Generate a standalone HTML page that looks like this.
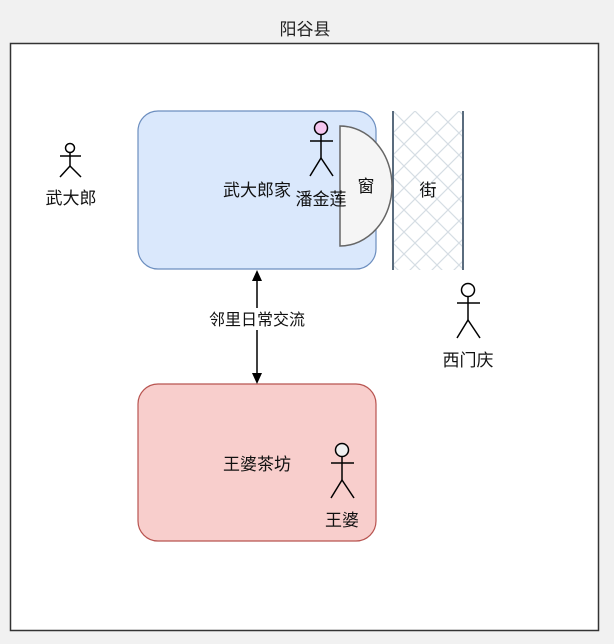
<!DOCTYPE html>
<html><head><meta charset="utf-8"><style>
html,body{margin:0;padding:0;background:#f1f1f1;}
svg{display:block;font-family:"Liberation Sans","Noto Sans CJK SC",sans-serif;}
</style></head><body>
<svg width="614" height="644" viewBox="0 0 614 644" xmlns="http://www.w3.org/2000/svg">
<defs>
<pattern id="hatch" width="22" height="22" patternUnits="userSpaceOnUse" x="393" y="111">
<path d="M0,0 L22,22 M22,0 L0,22" stroke="#d6dde4" stroke-width="1.2"/>
</pattern>
</defs>
<text x="305" y="35" font-size="17" text-anchor="middle" fill="#222">阳谷县</text>
<rect x="10.5" y="43.5" width="588" height="587" fill="#fff" stroke="#333" stroke-width="1.5"/>
<rect x="138" y="111" width="238" height="158" rx="20" fill="#dae8fc" stroke="#6c8ebf" stroke-width="1.2"/>
<text x="257" y="196" font-size="17" text-anchor="middle" fill="#111">武大郎家</text>
<rect x="138" y="384" width="238" height="157" rx="20" fill="#f8cecc" stroke="#b85450" stroke-width="1.2"/>
<text x="257" y="470" font-size="17" text-anchor="middle" fill="#111">王婆茶坊</text>
<rect x="393" y="111" width="70" height="159" fill="url(#hatch)"/>
<line x1="393" y1="111" x2="393" y2="270" stroke="#5a6c7e" stroke-width="2"/>
<line x1="463" y1="111" x2="463" y2="270" stroke="#5a6c7e" stroke-width="2"/>
<text x="428" y="196" font-size="17" text-anchor="middle" fill="#111">街</text>
<path d="M340,126 A52,60 0 0 1 340,246 Z" fill="#f5f5f5" stroke="#666" stroke-width="1.5"/>
<text x="366" y="192" font-size="17" text-anchor="middle" fill="#111">窗</text>
<line x1="257" y1="280" x2="257" y2="374" stroke="#000" stroke-width="1.5"/>
<path d="M257,270 L252,281 L262,281 Z" fill="#000"/>
<path d="M257,384 L252,373 L262,373 Z" fill="#000"/>
<rect x="203" y="308" width="108" height="22" fill="#fff"/>
<text x="257" y="325" font-size="16" text-anchor="middle" fill="#111">邻里日常交流</text>
<g stroke="#000" stroke-width="1.5" fill="none">
<circle cx="70" cy="148" r="4.5" fill="#fff"/>
<line x1="70" y1="152" x2="70" y2="166"/><line x1="60" y1="156" x2="81" y2="156"/>
<line x1="70" y1="166" x2="60" y2="177"/><line x1="70" y1="166" x2="81" y2="177"/>
<circle cx="321" cy="128" r="6.5" fill="#f5c6ef"/>
<line x1="321" y1="134" x2="321" y2="158"/><line x1="310" y1="141" x2="333" y2="141"/>
<line x1="321" y1="158" x2="310" y2="176"/><line x1="321" y1="158" x2="333" y2="176"/>
<circle cx="468" cy="290" r="6.5" fill="#fff"/>
<line x1="468" y1="296" x2="468" y2="320"/><line x1="457" y1="303" x2="480" y2="303"/>
<line x1="468" y1="320" x2="457" y2="338"/><line x1="468" y1="320" x2="480" y2="338"/>
<circle cx="342" cy="450" r="6.5" fill="#f0f0f0"/>
<line x1="342" y1="456" x2="342" y2="480"/><line x1="331" y1="463" x2="354" y2="463"/>
<line x1="342" y1="480" x2="331" y2="498"/><line x1="342" y1="480" x2="354" y2="498"/>
</g>
<text x="71" y="204" font-size="17" text-anchor="middle" fill="#111">武大郎</text>
<text x="321" y="205" font-size="17" text-anchor="middle" fill="#111">潘金莲</text>
<text x="468" y="366" font-size="17" text-anchor="middle" fill="#111">西门庆</text>
<text x="342" y="526" font-size="17" text-anchor="middle" fill="#111">王婆</text>
</svg>
</body></html>
